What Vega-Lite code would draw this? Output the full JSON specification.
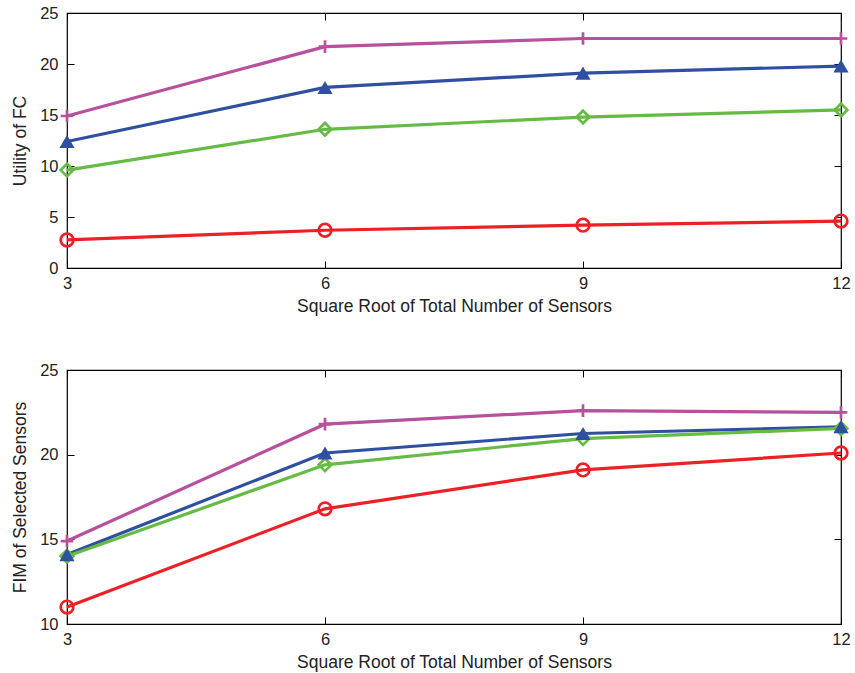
{
  "$schema": "https://vega.github.io/schema/vega-lite/v6.json",
  "padding": {"top": 4, "left": 11, "right": 3, "bottom": 1},
  "spacing": 45,
  "config": {
    "font": "Liberation Sans",
    "view": {"stroke": "#000", "strokeWidth": 1.2},
    "axis": {
      "labelFont": "Liberation Sans", "titleFont": "Liberation Sans",
      "labelFontSize": 16.5, "titleFontSize": 17.5, "titleFontWeight": "normal",
      "labelColor": "#222", "titleColor": "#222", "labelFlush": false,
      "grid": false, "domain": false, "tickColor": "#000", "tickSize": -7, "tickWidth": 1,
      "labelPadding": 16
    }
  },
  "datasets": {
    "utility": [
      {"n": 3, "series": "A", "v": 14.9}, {"n": 6, "series": "A", "v": 21.7}, {"n": 9, "series": "A", "v": 22.5}, {"n": 12, "series": "A", "v": 22.5},
      {"n": 3, "series": "B", "v": 12.4}, {"n": 6, "series": "B", "v": 17.7}, {"n": 9, "series": "B", "v": 19.1}, {"n": 12, "series": "B", "v": 19.8},
      {"n": 3, "series": "C", "v": 9.6}, {"n": 6, "series": "C", "v": 13.6}, {"n": 9, "series": "C", "v": 14.8}, {"n": 12, "series": "C", "v": 15.5},
      {"n": 3, "series": "D", "v": 2.75}, {"n": 6, "series": "D", "v": 3.7}, {"n": 9, "series": "D", "v": 4.2}, {"n": 12, "series": "D", "v": 4.6}
    ],
    "fim": [
      {"n": 3, "series": "A", "v": 14.9}, {"n": 6, "series": "A", "v": 21.8}, {"n": 9, "series": "A", "v": 22.6}, {"n": 12, "series": "A", "v": 22.5},
      {"n": 3, "series": "B", "v": 14.1}, {"n": 6, "series": "B", "v": 20.1}, {"n": 9, "series": "B", "v": 21.25}, {"n": 12, "series": "B", "v": 21.65},
      {"n": 3, "series": "C", "v": 14.0}, {"n": 6, "series": "C", "v": 19.4}, {"n": 9, "series": "C", "v": 20.95}, {"n": 12, "series": "C", "v": 21.55},
      {"n": 3, "series": "D", "v": 11.0}, {"n": 6, "series": "D", "v": 16.8}, {"n": 9, "series": "D", "v": 19.1}, {"n": 12, "series": "D", "v": 20.1}
    ]
  },
  "vconcat": [
    {
      "width": 774, "height": 255,
      "data": {"name": "utility"},
      "resolve": {"axis": {"x": "independent", "y": "independent"}},
      "encoding": {
        "color": {"field": "series", "type": "nominal", "legend": null,
                  "scale": {"domain": ["A", "B", "C", "D"], "range": ["#B8509E", "#2F4FA0", "#66BB44", "#EE2026"]}}
      },
      "layer": [
        {"mark": {"type": "line", "strokeWidth": 3.2},
         "encoding": {
           "x": {"field": "n", "type": "quantitative", "scale": {"domain": [3, 12], "nice": false, "zero": false},
                 "axis": {"values": [3, 6, 9, 12], "title": "Square Root of Total Number of Sensors", "titlePadding": 6, "labelPadding": 14}},
           "y": {"field": "v", "type": "quantitative", "scale": {"domain": [0, 25], "nice": false},
                 "axis": {"values": [0, 5, 10, 15, 20, 25], "title": "Utility of FC", "titlePadding": 10}}}},
        {"mark": {"type": "point", "opacity": 0},
         "encoding": {
           "x": {"field": "n", "type": "quantitative", "axis": {"orient": "top", "values": [3, 6, 9, 12], "labels": false, "title": null}},
           "y": {"field": "v", "type": "quantitative", "axis": {"orient": "right", "values": [0, 5, 10, 15, 20, 25], "labels": false, "title": null}}}},
        {"transform": [{"filter": "datum.series != 'B'"}],
         "mark": {"type": "point", "filled": false, "strokeWidth": 2.7, "opacity": 1},
         "encoding": {
            "x": {"field": "n", "type": "quantitative", "axis": null},
            "y": {"field": "v", "type": "quantitative", "axis": null},
            "shape": {"field": "series", "type": "nominal", "legend": null,
              "scale": {"domain": ["A", "C", "D"], "range": ["M-1,0L1,0M0,-1L0,1", "diamond", "circle"]}},
            "size": {"value": 160}}},
        {"transform": [{"filter": "datum.series == 'B'"}],
         "mark": {"type": "point", "filled": true, "shape": "triangle-up", "size": 230, "opacity": 1},
         "encoding": {
            "x": {"field": "n", "type": "quantitative", "axis": null},
            "y": {"field": "v", "type": "quantitative", "axis": null}}}
      ]
    },
    {
      "width": 774, "height": 254,
      "data": {"name": "fim"},
      "resolve": {"axis": {"x": "independent", "y": "independent"}},
      "encoding": {
        "color": {"field": "series", "type": "nominal", "legend": null,
                  "scale": {"domain": ["A", "B", "C", "D"], "range": ["#B8509E", "#2F4FA0", "#66BB44", "#EE2026"]}}
      },
      "layer": [
        {"mark": {"type": "line", "strokeWidth": 3.2},
         "encoding": {
           "x": {"field": "n", "type": "quantitative", "scale": {"domain": [3, 12], "nice": false, "zero": false},
                 "axis": {"values": [3, 6, 9, 12], "title": "Square Root of Total Number of Sensors", "titlePadding": 6, "labelPadding": 14}},
           "y": {"field": "v", "type": "quantitative", "scale": {"domain": [10, 25], "nice": false, "zero": false},
                 "axis": {"values": [10, 15, 20, 25], "title": "FIM of Selected Sensors", "titlePadding": 10}}}},
        {"mark": {"type": "point", "opacity": 0},
         "encoding": {
           "x": {"field": "n", "type": "quantitative", "axis": {"orient": "top", "values": [3, 6, 9, 12], "labels": false, "title": null}},
           "y": {"field": "v", "type": "quantitative", "axis": {"orient": "right", "values": [10, 15, 20, 25], "labels": false, "title": null}}}},
        {"transform": [{"filter": "datum.series != 'B'"}],
         "mark": {"type": "point", "filled": false, "strokeWidth": 2.7, "opacity": 1},
         "encoding": {
            "x": {"field": "n", "type": "quantitative", "axis": null},
            "y": {"field": "v", "type": "quantitative", "axis": null},
            "shape": {"field": "series", "type": "nominal", "legend": null,
              "scale": {"domain": ["A", "C", "D"], "range": ["M-1,0L1,0M0,-1L0,1", "diamond", "circle"]}},
            "size": {"value": 160}}},
        {"transform": [{"filter": "datum.series == 'B'"}],
         "mark": {"type": "point", "filled": true, "shape": "triangle-up", "size": 230, "opacity": 1},
         "encoding": {
            "x": {"field": "n", "type": "quantitative", "axis": null},
            "y": {"field": "v", "type": "quantitative", "axis": null}}}
      ]
    }
  ]
}
